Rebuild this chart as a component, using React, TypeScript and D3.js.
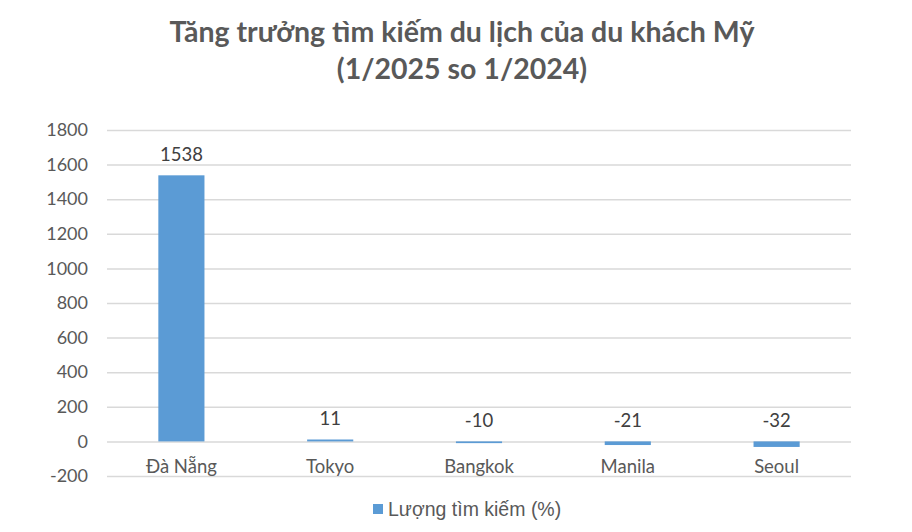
import React, { useEffect, useRef } from 'react';
import * as d3 from 'd3';

const cities = ['Đà Nẵng', 'Tokyo', 'Bangkok', 'Manila', 'Seoul'];
const growth = [1538, 11, -10, -21, -32];
const yTicks = [-200, 0, 200, 400, 600, 800, 1000, 1200, 1400, 1600, 1800];
const titleLines = ['Tăng trưởng tìm kiếm du lịch của du khách Mỹ', '(1/2025 so 1/2024)'];
const seriesName = 'Lượng tìm kiếm (%)';

const W = 912;
const H = 532;
const margin = { top: 130, right: 61, bottom: 56, left: 107 };
const BAR = '#5b9bd5';
const TEXT = '#595959';
const labelFont = 'Lato, "Open Sans", sans-serif';

export default function App() {
  const svgRef = useRef<SVGSVGElement | null>(null);

  useEffect(() => {
    if (!svgRef.current) return;
    const svg = d3.select(svgRef.current);
    svg.selectAll('*').remove();

    const x = d3
      .scaleBand()
      .domain(cities)
      .range([margin.left, W - margin.right])
      .paddingInner(0.69)
      .paddingOuter(0.345);
    const y = d3.scaleLinear().domain([-200, 1800]).range([H - margin.bottom, margin.top]);
    const band = d3.scaleBand().domain(cities).range([margin.left, W - margin.right]);

    // Title
    svg
      .append('g')
      .selectAll('text')
      .data(titleLines)
      .enter()
      .append('text')
      .attr('x', W / 2 + 6)
      .attr('y', (_, i) => 42 + i * 37)
      .attr('text-anchor', 'middle')
      .attr('fill', TEXT)
      .attr('font-family', labelFont)
      .attr('font-weight', 'bold')
      .attr('font-size', '28.5px')
      .text((d) => d);

    // Grid lines
    const grid = d3
      .axisLeft(y)
      .tickValues(yTicks)
      .tickSize(-(W - margin.left - margin.right))
      .tickFormat(() => '');
    const gg = svg.append('g').attr('transform', `translate(${margin.left},0)`).call(grid);
    gg.select('.domain').remove();
    gg.selectAll('line').attr('stroke', '#d9d9d9').attr('stroke-width', 1.5);

    // Y labels
    const ya = svg
      .append('g')
      .attr('transform', `translate(${margin.left - 19},0)`)
      .call(d3.axisLeft(y).tickValues(yTicks).tickSize(0).tickPadding(0).tickFormat((d) => String(d)));
    ya.select('.domain').remove();
    ya.selectAll('text')
      .attr('fill', TEXT)
      .attr('font-family', labelFont)
      .attr('font-size', '18px');

    // Bars
    svg
      .append('g')
      .selectAll('rect')
      .data(growth)
      .enter()
      .append('rect')
      .attr('x', (_, i) => x(cities[i]) || 0)
      .attr('width', x.bandwidth())
      .attr('y', (d) => y(Math.max(d, 0)))
      .attr('height', (d) => Math.max(Math.abs(y(d) - y(0)), 1.5))
      .attr('fill', BAR);

    // Value labels
    svg
      .append('g')
      .selectAll('text')
      .data(growth)
      .enter()
      .append('text')
      .attr('x', (_, i) => (band(cities[i]) || 0) + band.bandwidth() / 2)
      .attr('y', (d) => y(Math.max(d, 0)) - 14)
      .attr('text-anchor', 'middle')
      .attr('fill', '#404040')
      .attr('font-family', labelFont)
      .attr('font-size', '18.5px')
      .text((d) => d);

    // Category labels
    svg
      .append('g')
      .selectAll('text')
      .data(cities)
      .enter()
      .append('text')
      .attr('x', (d) => (band(d) || 0) + band.bandwidth() / 2)
      .attr('y', y(0) + 32)
      .attr('text-anchor', 'middle')
      .attr('fill', TEXT)
      .attr('font-family', labelFont)
      .attr('font-size', '18.5px')
      .text((d) => d);

    // Legend
    const lg = svg.append('g').attr('transform', `translate(373,509)`);
    lg.append('rect').attr('x', 0).attr('y', -5).attr('width', 10).attr('height', 10).attr('fill', BAR);
    lg.append('text')
      .attr('x', 15)
      .attr('y', 7)
      .attr('fill', TEXT)
      .attr('font-family', '"Liberation Sans", Arial, sans-serif')
      .attr('font-size', '19.5px')
      .text(seriesName);
  }, []);

  return <svg ref={svgRef} width={W} height={H} style={{ display: 'block', margin: '-8px', background: '#fff' }} />;
}
